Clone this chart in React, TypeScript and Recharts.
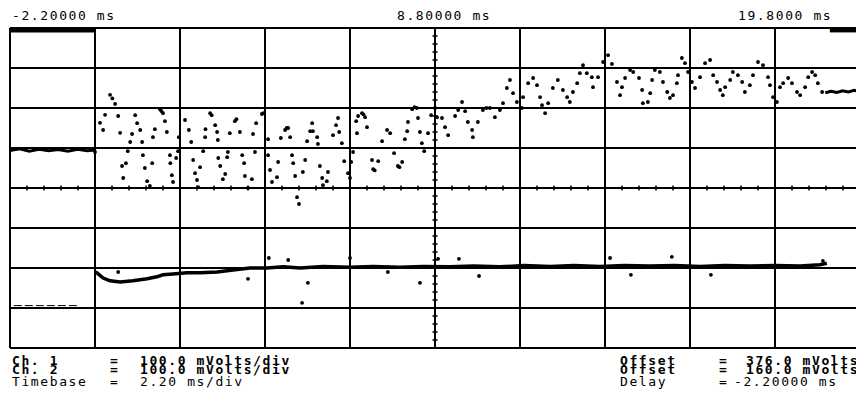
import React from "react";
import { ComposedChart, XAxis, YAxis, ReferenceLine, Line, Scatter } from "recharts";

// time axis (ms), 2.20 ms/div
const timeTicks = [-2.2, 0, 2.2, 4.4, 6.6, 8.8, 11, 13.2, 15.4, 17.6, 19.8];
// Ch1: 100 mV/div, offset 376 mV
const ch1Ticks = [-24, 76, 176, 276, 376, 476, 576, 676, 776];
// Ch2: 100 mV/div, offset 160 mV
const ch2Domain = [-240, 560];

const topLabels = ["-2.20000 ms", "8.80000 ms", "19.8000 ms"];

// Ch1 pre-trigger trace
const ch1Pre = [
  { t: -2.2, v: 470 }, { t: -1.95, v: 474 }, { t: -1.7, v: 468 }, { t: -1.45, v: 473 },
  { t: -1.2, v: 469 }, { t: -0.95, v: 472 }, { t: -0.7, v: 468 }, { t: -0.45, v: 473 },
  { t: -0.2, v: 469 }, { t: 0, v: 471 },
];

// Ch1 sampled dots after trigger
const ch1Dots = [
  { t: 0.0, v: 466 }, { t: 0.13, v: 539 }, { t: 0.21, v: 521 }, { t: 0.26, v: 559 }, { t: 0.39, v: 609 },
  { t: 0.45, v: 600 }, { t: 0.52, v: 586 }, { t: 0.6, v: 556 }, { t: 0.65, v: 514 }, { t: 0.7, v: 431 },
  { t: 0.73, v: 401 }, { t: 0.8, v: 438 }, { t: 0.85, v: 468 }, { t: 0.91, v: 491 }, { t: 0.96, v: 511 },
  { t: 1.04, v: 558 }, { t: 1.09, v: 538 }, { t: 1.17, v: 521 }, { t: 1.22, v: 491 }, { t: 1.24, v: 458 },
  { t: 1.29, v: 426 }, { t: 1.35, v: 393 }, { t: 1.42, v: 381 }, { t: 1.48, v: 438 }, { t: 1.5, v: 503 },
  { t: 1.55, v: 523 }, { t: 1.68, v: 573 }, { t: 1.72, v: 568 }, { t: 1.76, v: 563 }, { t: 1.81, v: 543 },
  { t: 1.86, v: 516 }, { t: 1.94, v: 458 }, { t: 1.95, v: 438 }, { t: 1.99, v: 408 }, { t: 2.02, v: 391 },
  { t: 2.1, v: 451 }, { t: 2.15, v: 468 }, { t: 2.17, v: 503 }, { t: 2.33, v: 546 }, { t: 2.43, v: 521 },
  { t: 2.49, v: 491 }, { t: 2.54, v: 446 }, { t: 2.59, v: 413 }, { t: 2.64, v: 396 }, { t: 2.67, v: 378 },
  { t: 2.72, v: 428 }, { t: 2.8, v: 468 }, { t: 2.85, v: 503 }, { t: 2.86, v: 523 }, { t: 2.98, v: 563 },
  { t: 3.02, v: 558 }, { t: 3.11, v: 533 }, { t: 3.16, v: 516 }, { t: 3.18, v: 496 }, { t: 3.19, v: 451 },
  { t: 3.24, v: 431 }, { t: 3.31, v: 398 }, { t: 3.37, v: 411 }, { t: 3.42, v: 453 }, { t: 3.44, v: 466 },
  { t: 3.49, v: 513 }, { t: 3.62, v: 543 }, { t: 3.66, v: 548 }, { t: 3.75, v: 516 }, { t: 3.81, v: 458 },
  { t: 3.86, v: 438 }, { t: 3.88, v: 406 }, { t: 3.96, v: 376 }, { t: 4.06, v: 398 }, { t: 4.09, v: 511 },
  { t: 4.14, v: 466 }, { t: 4.17, v: 538 }, { t: 4.32, v: 561 }, { t: 4.36, v: 563 },
  { t: 4.48, v: 458 }, { t: 4.48, v: 498 }, { t: 4.53, v: 421 }, { t: 4.58, v: 391 }, { t: 4.71, v: 403 },
  { t: 4.74, v: 441 }, { t: 4.81, v: 501 }, { t: 4.92, v: 521 }, { t: 4.96, v: 526 }, { t: 5.0, v: 526 },
  { t: 5.05, v: 503 }, { t: 5.1, v: 458 }, { t: 5.13, v: 438 }, { t: 5.18, v: 406 }, { t: 5.23, v: 353 },
  { t: 5.28, v: 336 }, { t: 5.38, v: 416 }, { t: 5.44, v: 446 }, { t: 5.49, v: 493 }, { t: 5.57, v: 518 },
  { t: 5.62, v: 538 }, { t: 5.64, v: 518 }, { t: 5.75, v: 503 }, { t: 5.77, v: 486 }, { t: 5.82, v: 431 },
  { t: 5.88, v: 401 }, { t: 5.9, v: 383 }, { t: 6.0, v: 393 }, { t: 6.03, v: 416 }, { t: 6.16, v: 508 },
  { t: 6.24, v: 533 }, { t: 6.29, v: 551 }, { t: 6.32, v: 516 }, { t: 6.39, v: 488 }, { t: 6.45, v: 443 },
  { t: 6.55, v: 413 }, { t: 6.6, v: 401 }, { t: 6.63, v: 441 }, { t: 6.68, v: 466 }, { t: 6.76, v: 543 },
  { t: 6.78, v: 513 }, { t: 6.81, v: 556 }, { t: 6.91, v: 563 }, { t: 6.95, v: 560 }, { t: 6.99, v: 553 },
  { t: 7.04, v: 528 }, { t: 7.17, v: 446 }, { t: 7.2, v: 423 }, { t: 7.24, v: 420 }, { t: 7.33, v: 443 },
  { t: 7.43, v: 493 }, { t: 7.56, v: 521 }, { t: 7.64, v: 513 }, { t: 7.74, v: 463 }, { t: 7.84, v: 431 },
  { t: 7.88, v: 428 }, { t: 7.95, v: 441 }, { t: 8.02, v: 498 }, { t: 8.08, v: 518 }, { t: 8.1, v: 541 },
  { t: 8.21, v: 573 }, { t: 8.27, v: 578 }, { t: 8.33, v: 576 }, { t: 8.36, v: 551 }, { t: 8.41, v: 516 },
  { t: 8.46, v: 488 }, { t: 8.52, v: 468 }, { t: 8.62, v: 513 }, { t: 8.7, v: 558 }, { t: 8.8, v: 576 },
  { t: 8.85, v: 553 }, { t: 8.98, v: 551 },
  { t: 9.06, v: 528 }, { t: 9.14, v: 508 }, { t: 9.32, v: 556 }, { t: 9.4, v: 571 }, { t: 9.5, v: 591 },
  { t: 9.58, v: 568 }, { t: 9.65, v: 541 }, { t: 9.76, v: 521 }, { t: 9.78, v: 503 }, { t: 9.91, v: 541 },
  { t: 10.04, v: 571 }, { t: 10.13, v: 576 }, { t: 10.22, v: 576 }, { t: 10.35, v: 553 }, { t: 10.48, v: 571 },
  { t: 10.56, v: 588 }, { t: 10.66, v: 626 }, { t: 10.74, v: 646 }, { t: 10.82, v: 613 }, { t: 10.92, v: 591 },
  { t: 11.05, v: 576 }, { t: 11.08, v: 603 }, { t: 11.21, v: 638 }, { t: 11.34, v: 651 }, { t: 11.44, v: 633 },
  { t: 11.52, v: 603 }, { t: 11.57, v: 583 }, { t: 11.65, v: 563 }, { t: 11.73, v: 588 }, { t: 11.85, v: 626 },
  { t: 11.98, v: 646 }, { t: 12.11, v: 621 }, { t: 12.22, v: 603 }, { t: 12.29, v: 591 }, { t: 12.37, v: 616 },
  { t: 12.48, v: 638 }, { t: 12.55, v: 663 }, { t: 12.63, v: 683 }, { t: 12.73, v: 663 }, { t: 12.86, v: 653 },
  { t: 12.89, v: 628 }, { t: 13.02, v: 653 }, { t: 13.15, v: 691 }, { t: 13.28, v: 708 }, { t: 13.38, v: 686 },
  { t: 13.51, v: 641 }, { t: 13.59, v: 608 }, { t: 13.64, v: 628 }, { t: 13.72, v: 651 }, { t: 13.85, v: 671 },
  { t: 13.93, v: 666 }, { t: 14.08, v: 651 }, { t: 14.16, v: 621 }, { t: 14.18, v: 588 },
  { t: 14.31, v: 591 }, { t: 14.37, v: 613 }, { t: 14.42, v: 646 }, { t: 14.49, v: 671 }, { t: 14.62, v: 666 },
  { t: 14.7, v: 641 }, { t: 14.81, v: 616 }, { t: 14.88, v: 601 }, { t: 14.96, v: 608 }, { t: 15.06, v: 638 },
  { t: 15.09, v: 658 }, { t: 15.19, v: 701 }, { t: 15.27, v: 688 }, { t: 15.35, v: 666 }, { t: 15.45, v: 641 },
  { t: 15.53, v: 626 }, { t: 15.66, v: 653 }, { t: 15.79, v: 688 }, { t: 15.92, v: 696 }, { t: 16.0, v: 658 },
  { t: 16.1, v: 641 }, { t: 16.18, v: 621 }, { t: 16.25, v: 608 }, { t: 16.31, v: 628 }, { t: 16.44, v: 646 },
  { t: 16.51, v: 666 }, { t: 16.64, v: 658 }, { t: 16.75, v: 641 }, { t: 16.82, v: 616 }, { t: 16.95, v: 633 },
  { t: 17.03, v: 658 }, { t: 17.16, v: 691 }, { t: 17.29, v: 683 }, { t: 17.42, v: 653 }, { t: 17.47, v: 633 },
  { t: 17.55, v: 603 }, { t: 17.65, v: 591 }, { t: 17.73, v: 628 }, { t: 17.81, v: 638 }, { t: 17.94, v: 651 },
  { t: 18.04, v: 638 }, { t: 18.17, v: 616 }, { t: 18.25, v: 608 }, { t: 18.38, v: 628 }, { t: 18.46, v: 653 },
  { t: 18.56, v: 666 }, { t: 18.64, v: 658 }, { t: 18.71, v: 638 }, { t: 18.82, v: 616 },
];

// Ch1 flat tail at the right edge
const ch1Tail = [
  { t: 18.9, v: 614 }, { t: 19.05, v: 618 }, { t: 19.2, v: 615 }, { t: 19.35, v: 619 },
  { t: 19.5, v: 616 }, { t: 19.65, v: 620 }, { t: 19.8, v: 617 },
];

// Markers at the top edge
const topMarkLeft = [{ t: -2.2, v: 770 }, { t: 0, v: 770 }];
const topMarkRight = [{ t: 19.02, v: 770 }, { t: 19.8, v: 770 }];

// Ch2 pre-trigger trace
const ch2Pre = [{ t: -2.1, v: -134 }, { t: -0.4, v: -134 }];

// Ch2 trace after trigger
const ch2Trace = [
  { t: 0.0, v: -50 }, { t: 0.05, v: -52 }, { t: 0.21, v: -65 }, { t: 0.39, v: -72 }, { t: 0.65, v: -75 },
  { t: 0.98, v: -72 }, { t: 1.35, v: -67 }, { t: 1.6, v: -62 }, { t: 1.76, v: -57 }, { t: 2.02, v: -55 },
  { t: 2.38, v: -52 }, { t: 2.72, v: -52 }, { t: 3.16, v: -50 }, { t: 3.57, v: -45 }, { t: 4.01, v: -40 },
  { t: 4.45, v: -40 }, { t: 4.87, v: -37 }, { t: 5.31, v: -40 }, { t: 5.9, v: -36 }, { t: 6.6, v: -38 },
  { t: 7.2, v: -36 }, { t: 7.89, v: -38 }, { t: 8.5, v: -36 }, { t: 9.19, v: -37 }, { t: 9.8, v: -35 },
  { t: 10.48, v: -37 }, { t: 11.1, v: -34 }, { t: 11.78, v: -36 }, { t: 12.4, v: -34 }, { t: 13.07, v: -36 },
  { t: 13.7, v: -34 }, { t: 14.36, v: -35 }, { t: 15.0, v: -34 }, { t: 15.66, v: -36 }, { t: 16.3, v: -34 },
  { t: 16.95, v: -35 }, { t: 17.6, v: -34 }, { t: 18.25, v: -35 }, { t: 18.76, v: -32 }, { t: 18.94, v: -28 },
];

// Ch2 stray samples
const ch2Dots = [
  { t: 0.6, v: -50 }, { t: 3.96, v: -67 }, { t: 4.5, v: -15 }, { t: 5.0, v: -20 }, { t: 5.36, v: -127 },
  { t: 5.51, v: -77 }, { t: 6.6, v: -15 }, { t: 7.58, v: -50 }, { t: 8.41, v: -77 }, { t: 8.88, v: -17 },
  { t: 9.42, v: -17 }, { t: 9.94, v: -60 }, { t: 13.33, v: -15 }, { t: 13.87, v: -57 }, { t: 14.93, v: -12 },
  { t: 15.94, v: -57 }, { t: 18.84, v: -22 },
];

// graticule minor ticks on the centre lines (0.2 div)
const hMinor = Array.from({ length: 51 }, (_, i) => ({ t: -2.2 + i * 0.44, v: 376 }));
const vMinor = Array.from({ length: 41 }, (_, i) => ({ t: 8.8, v: -24 + i * 20 }));

const leftInfo = [
  { label: "Ch. 1", eq: "=", value: "100.0 mVolts/div", bold: true },
  { label: "Ch. 2", eq: "=", value: "100.0 mVolts/div", bold: true },
  { label: "Timebase", eq: "=", value: "2.20 ms/div", bold: false },
];
const rightInfo = [
  { label: "Offset", eq: "=", value: "376.0 mVolts", bold: true },
  { label: "Offset", eq: "=", value: "160.0 mVolts", bold: true },
  { label: "Delay", eq: "=", value: "-2.20000 ms", bold: false },
];

const Dot = (props: any) => {
  const { cx, cy } = props;
  if (cx == null || cy == null) return null;
  return <circle cx={cx} cy={cy} r={1.9} fill="#000" />;
};
const VTick = (props: any) => {
  const { cx, cy } = props;
  if (cx == null || cy == null) return null;
  return <line x1={cx} x2={cx} y1={cy - 2.5} y2={cy + 2.5} stroke="#000" strokeWidth={1.5} />;
};
const HTick = (props: any) => {
  const { cx, cy } = props;
  if (cx == null || cy == null) return null;
  return <line x1={cx - 2.5} x2={cx + 2.5} y1={cy} y2={cy} stroke="#000" strokeWidth={1.5} />;
};

const FONT = "'DejaVu Sans Mono', 'Liberation Mono', monospace";
const baselines = [357, 366, 378];

export default function App() {
  return (
    <div style={{ position: "relative", width: 856, height: 392, background: "#fff" }}>
      <ComposedChart
        width={856}
        height={392}
        margin={{ top: 20, right: 4, bottom: 52, left: 2 }}
      >
        <XAxis
          type="number"
          dataKey="t"
          domain={[-2.2, 19.8]}
          ticks={timeTicks}
          allowDataOverflow
          height={0}
          tick={false}
          axisLine={false}
          tickLine={false}
        />
        <YAxis
          yAxisId="ch1"
          type="number"
          dataKey="v"
          domain={[-24, 776]}
          ticks={ch1Ticks}
          allowDataOverflow
          width={0}
          tick={false}
          axisLine={false}
          tickLine={false}
        />
        <YAxis
          yAxisId="ch2"
          orientation="right"
          type="number"
          dataKey="v"
          domain={ch2Domain}
          allowDataOverflow
          width={0}
          tick={false}
          axisLine={false}
          tickLine={false}
        />
        {timeTicks.map((t) => (
          <ReferenceLine key={"gx" + t} x={t} yAxisId="ch1" stroke="#000" strokeWidth={2} ifOverflow="visible" />
        ))}
        {ch1Ticks.map((v) => (
          <ReferenceLine key={"gy" + v} y={v} yAxisId="ch1" stroke="#000" strokeWidth={2} ifOverflow="visible" />
        ))}
        <Scatter yAxisId="ch1" data={hMinor} dataKey="v" shape={VTick} isAnimationActive={false} />
        <Scatter yAxisId="ch1" data={vMinor} dataKey="v" shape={HTick} isAnimationActive={false} />
        <Line yAxisId="ch1" data={topMarkLeft} dataKey="v" stroke="#000" strokeWidth={4} dot={false} isAnimationActive={false} />
        <Line yAxisId="ch1" data={topMarkRight} dataKey="v" stroke="#000" strokeWidth={4} dot={false} isAnimationActive={false} />
        <Line yAxisId="ch1" data={ch1Pre} dataKey="v" stroke="#000" strokeWidth={3} dot={false} isAnimationActive={false} />
        <Line yAxisId="ch1" data={ch1Tail} dataKey="v" stroke="#000" strokeWidth={3} dot={false} isAnimationActive={false} />
        <Scatter yAxisId="ch1" data={ch1Dots} dataKey="v" shape={Dot} isAnimationActive={false} />
        <Line yAxisId="ch2" data={ch2Pre} dataKey="v" stroke="#000" strokeWidth={1} strokeDasharray="8 3" dot={false} isAnimationActive={false} />
        <Line yAxisId="ch2" data={ch2Trace} dataKey="v" stroke="#000" strokeWidth={3.5} dot={false} isAnimationActive={false} />
        <Scatter yAxisId="ch2" data={ch2Dots} dataKey="v" shape={Dot} isAnimationActive={false} />
      </ComposedChart>
      <svg
        width={856}
        height={392}
        style={{ position: "absolute", left: 0, top: 0, pointerEvents: "none", overflow: "visible" }}
        fontFamily={FONT}
        fontSize={13}
        letterSpacing={1.6}
      >
        <text x={4} y={11.5}>{topLabels[0]}</text>
        <text x={389} y={11.5}>{topLabels[1]}</text>
        <text x={730} y={11.5}>{topLabels[2]}</text>
        {leftInfo.map((r, i) => (
          <g key={"l" + i} fontWeight={r.bold ? "bold" : "normal"}>
            <text x={4} y={baselines[i]}>{r.label}</text>
            <text x={102} y={baselines[i]}>{r.eq}</text>
            <text x={132} y={baselines[i]}>{r.value}</text>
          </g>
        ))}
        {rightInfo.map((r, i) => (
          <g key={"r" + i} fontWeight={r.bold ? "bold" : "normal"}>
            <text x={612} y={baselines[i]}>{r.label}</text>
            <text x={711} y={baselines[i]}>{r.eq}</text>
            <text x={r.bold ? 738 : 726} y={baselines[i]}>{r.value}</text>
          </g>
        ))}
      </svg>
    </div>
  );
}
